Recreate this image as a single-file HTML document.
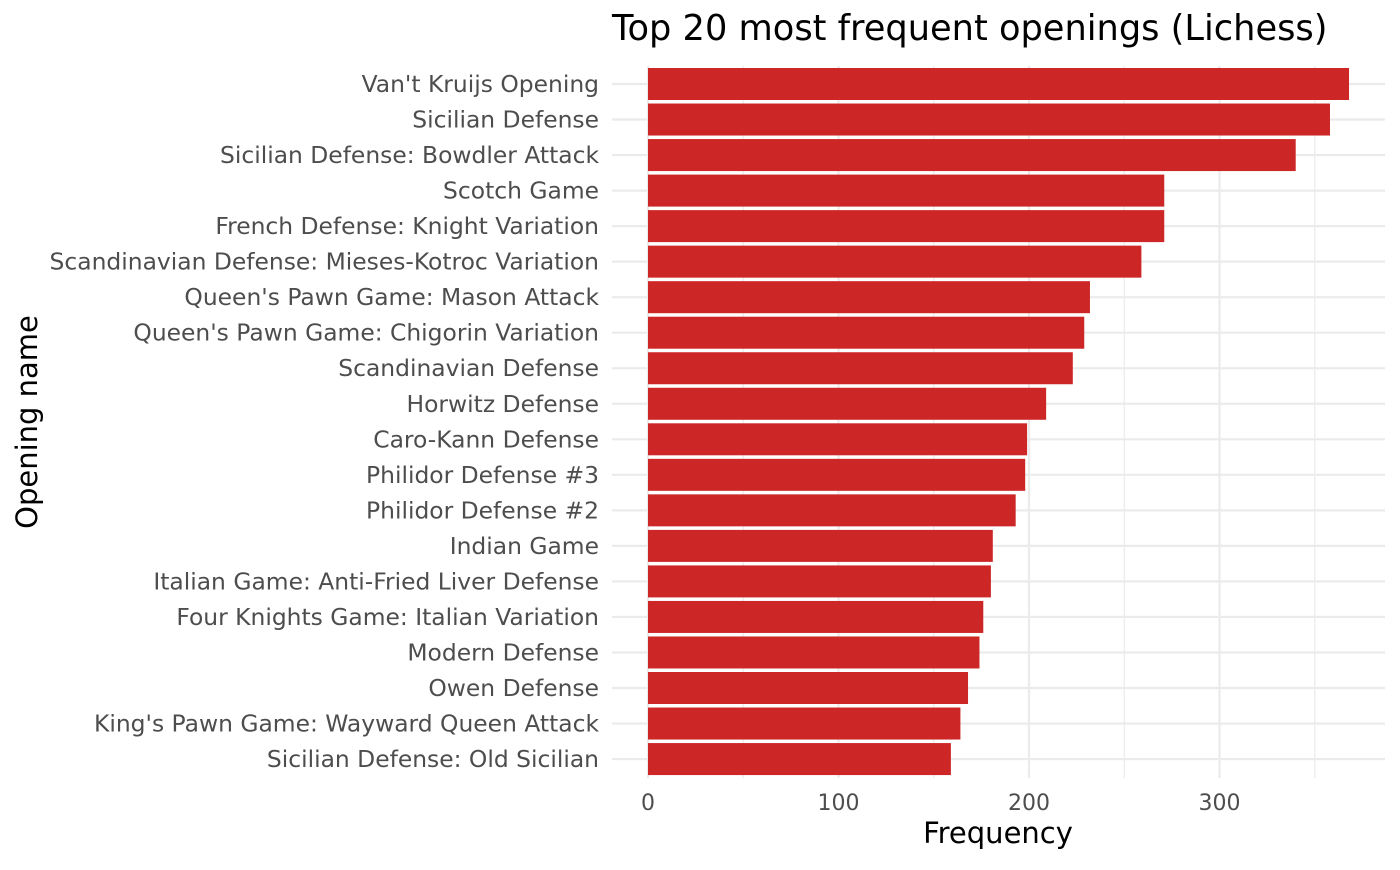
<!DOCTYPE html>
<html><head><meta charset="utf-8"><style>
body{margin:0;background:#fff;font-family:"Liberation Sans","DejaVu Sans",sans-serif}
</style></head><body>
<svg id="chart" width="1400" height="865" xmlns="http://www.w3.org/2000/svg" font-family="DejaVu Sans, Liberation Sans, sans-serif">
<text x="612" y="40" font-size="35.2" fill="#000">Top 20 most frequent openings (Lichess)</text>
<g id="grid"></g><g id="bars"></g><g id="ylabels"></g><g id="xlabels"></g>
<text x="998" y="843" font-size="29" text-anchor="middle" fill="#000">Frequency</text>
<text transform="translate(37,422) rotate(-90)" font-size="29" text-anchor="middle" fill="#000">Opening name</text>
</svg>
<script>
const categories=["Van't Kruijs Opening","Sicilian Defense","Sicilian Defense: Bowdler Attack","Scotch Game","French Defense: Knight Variation","Scandinavian Defense: Mieses-Kotroc Variation","Queen's Pawn Game: Mason Attack","Queen's Pawn Game: Chigorin Variation","Scandinavian Defense","Horwitz Defense","Caro-Kann Defense","Philidor Defense #3","Philidor Defense #2","Indian Game","Italian Game: Anti-Fried Liver Defense","Four Knights Game: Italian Variation","Modern Defense","Owen Defense","King's Pawn Game: Wayward Queen Attack","Sicilian Defense: Old Sicilian"];
const values=[368,358,340,271,271,259,232,229,223,209,199,198,193,181,180,176,174,168,164,159];
const xTicks=[0,100,200,300];
const xMinor=[50,150,250,350];
const NS="http://www.w3.org/2000/svg";
const x=v=>648+v*1.905;
const y=i=>84+i*35.53;
function mk(t,a,p){const e=document.createElementNS(NS,t);for(const k in a)e.setAttribute(k,a[k]);document.getElementById(p).appendChild(e);return e;}
xMinor.forEach(v=>{const l=mk('line',{x1:x(v),x2:x(v),y1:66,y2:778,stroke:'#ebebeb','stroke-width':1.2},'grid');
});
xTicks.forEach(v=>{const l=mk('line',{x1:x(v),x2:x(v),y1:66,y2:778,stroke:'#ebebeb','stroke-width':2.2},'grid');

const t=mk('text',{x:x(v),y:810,'font-size':22,'text-anchor':'middle',fill:'#4d4d4d'},'xlabels');t.textContent=v;
});
categories.forEach((c,i)=>{const g=mk('line',{x1:612,x2:1385,y1:y(i),y2:y(i),stroke:'#ebebeb','stroke-width':2.2},'grid');

const r=mk('rect',{x:x(0),y:y(i)-16,width:x(values[i])-x(0),height:32,fill:'#cd2626'},'bars');

const t=mk('text',{x:599,y:y(i)+8,'font-size':23.4,'text-anchor':'end',fill:'#4d4d4d'},'ylabels');t.textContent=c;
});
</script>
</body></html>
